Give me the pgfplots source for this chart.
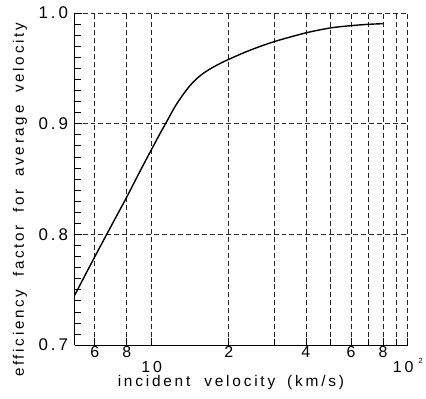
\documentclass[border=0pt]{standalone}
\usepackage{fontspec}
\setmainfont{Liberation Sans}[LetterSpace=18]
\usepackage{pgfplots}
\pgfplotsset{compat=1.18}
\begin{document}
\begin{tikzpicture}
\path (-75pt,-54pt) rectangle (351pt,347pt);
\begin{axis}[
  scale only axis,
  width=335pt, height=334pt,
  xmode=log,
  xmin=5, xmax=100,
  ymin=0.7, ymax=1.0,
  axis lines=left,
  axis line style={-, line width=1.1pt},
  tick align=inside,
  tick style={line width=0.8pt, black},
  major tick length=7pt,
  minor tick length=6pt,
  ytick={0.7,0.8,0.9,1.0},
  minor y tick num=9,
  /pgf/number format/assume math mode=true,
  yticklabel style={/pgf/number format/fixed, /pgf/number format/fixed zerofill, /pgf/number format/precision=1, font=\fontsize{17}{17}\selectfont, xshift=-3pt},
  xtick={10,100},
  xticklabels={10, {10\hspace{5pt}\raisebox{9pt}{\fontsize{7.5}{7.5}\selectfont 2}}},
  xticklabel style={anchor=base, yshift=-27pt, font=\fontsize{16}{16}\selectfont},
  extra x ticks={6,8,20,40,60,80},
  extra x tick labels={6,8,2,4,6,8},
  extra x tick style={tick label style={yshift=15pt, font=\fontsize{7.5}{7.5}\selectfont}},
  xmajorgrids, xminorgrids, ymajorgrids,
  grid style={dash pattern=on 5pt off 3pt, line width=0.8pt, black!85},
  minor grid style={dash pattern=on 5pt off 3pt, line width=0.8pt, black!85},
  xlabel={incident\hspace{7pt} velocity\hspace{5pt} (km/s)},
  xlabel style={at={(axis description cs:0.469,-0.113)}, anchor=center, font=\fontsize{15.5}{15.5}\selectfont},
  ylabel={efficiency\hspace{6pt} factor\hspace{6pt} for\hspace{6pt} average\hspace{6pt} velocity},
  ylabel style={at={(axis description cs:-0.164,0.437)}, anchor=center, font=\fontsize{15.2}{15.2}\selectfont},
  clip=false,
]
\addplot[black, line width=1.4pt, smooth, tension=0.5] coordinates {
(5,0.745) (6,0.780) (7,0.809) (8,0.834) (9,0.857) (10,0.877)
(10.715,0.8900) (11.482,0.9025) (12.303,0.9150) (13.183,0.9255)
(14.125,0.9345) (15.136,0.9415) (16.218,0.9468) (17.378,0.9510)
(18.621,0.9547) (19.953,0.9580) (24,0.9660) (30,0.9740) (40,0.9820)
(50,0.9865) (60,0.9885) (70,0.9897) (80,0.9903)
};
\end{axis}
\end{tikzpicture}
\end{document}
